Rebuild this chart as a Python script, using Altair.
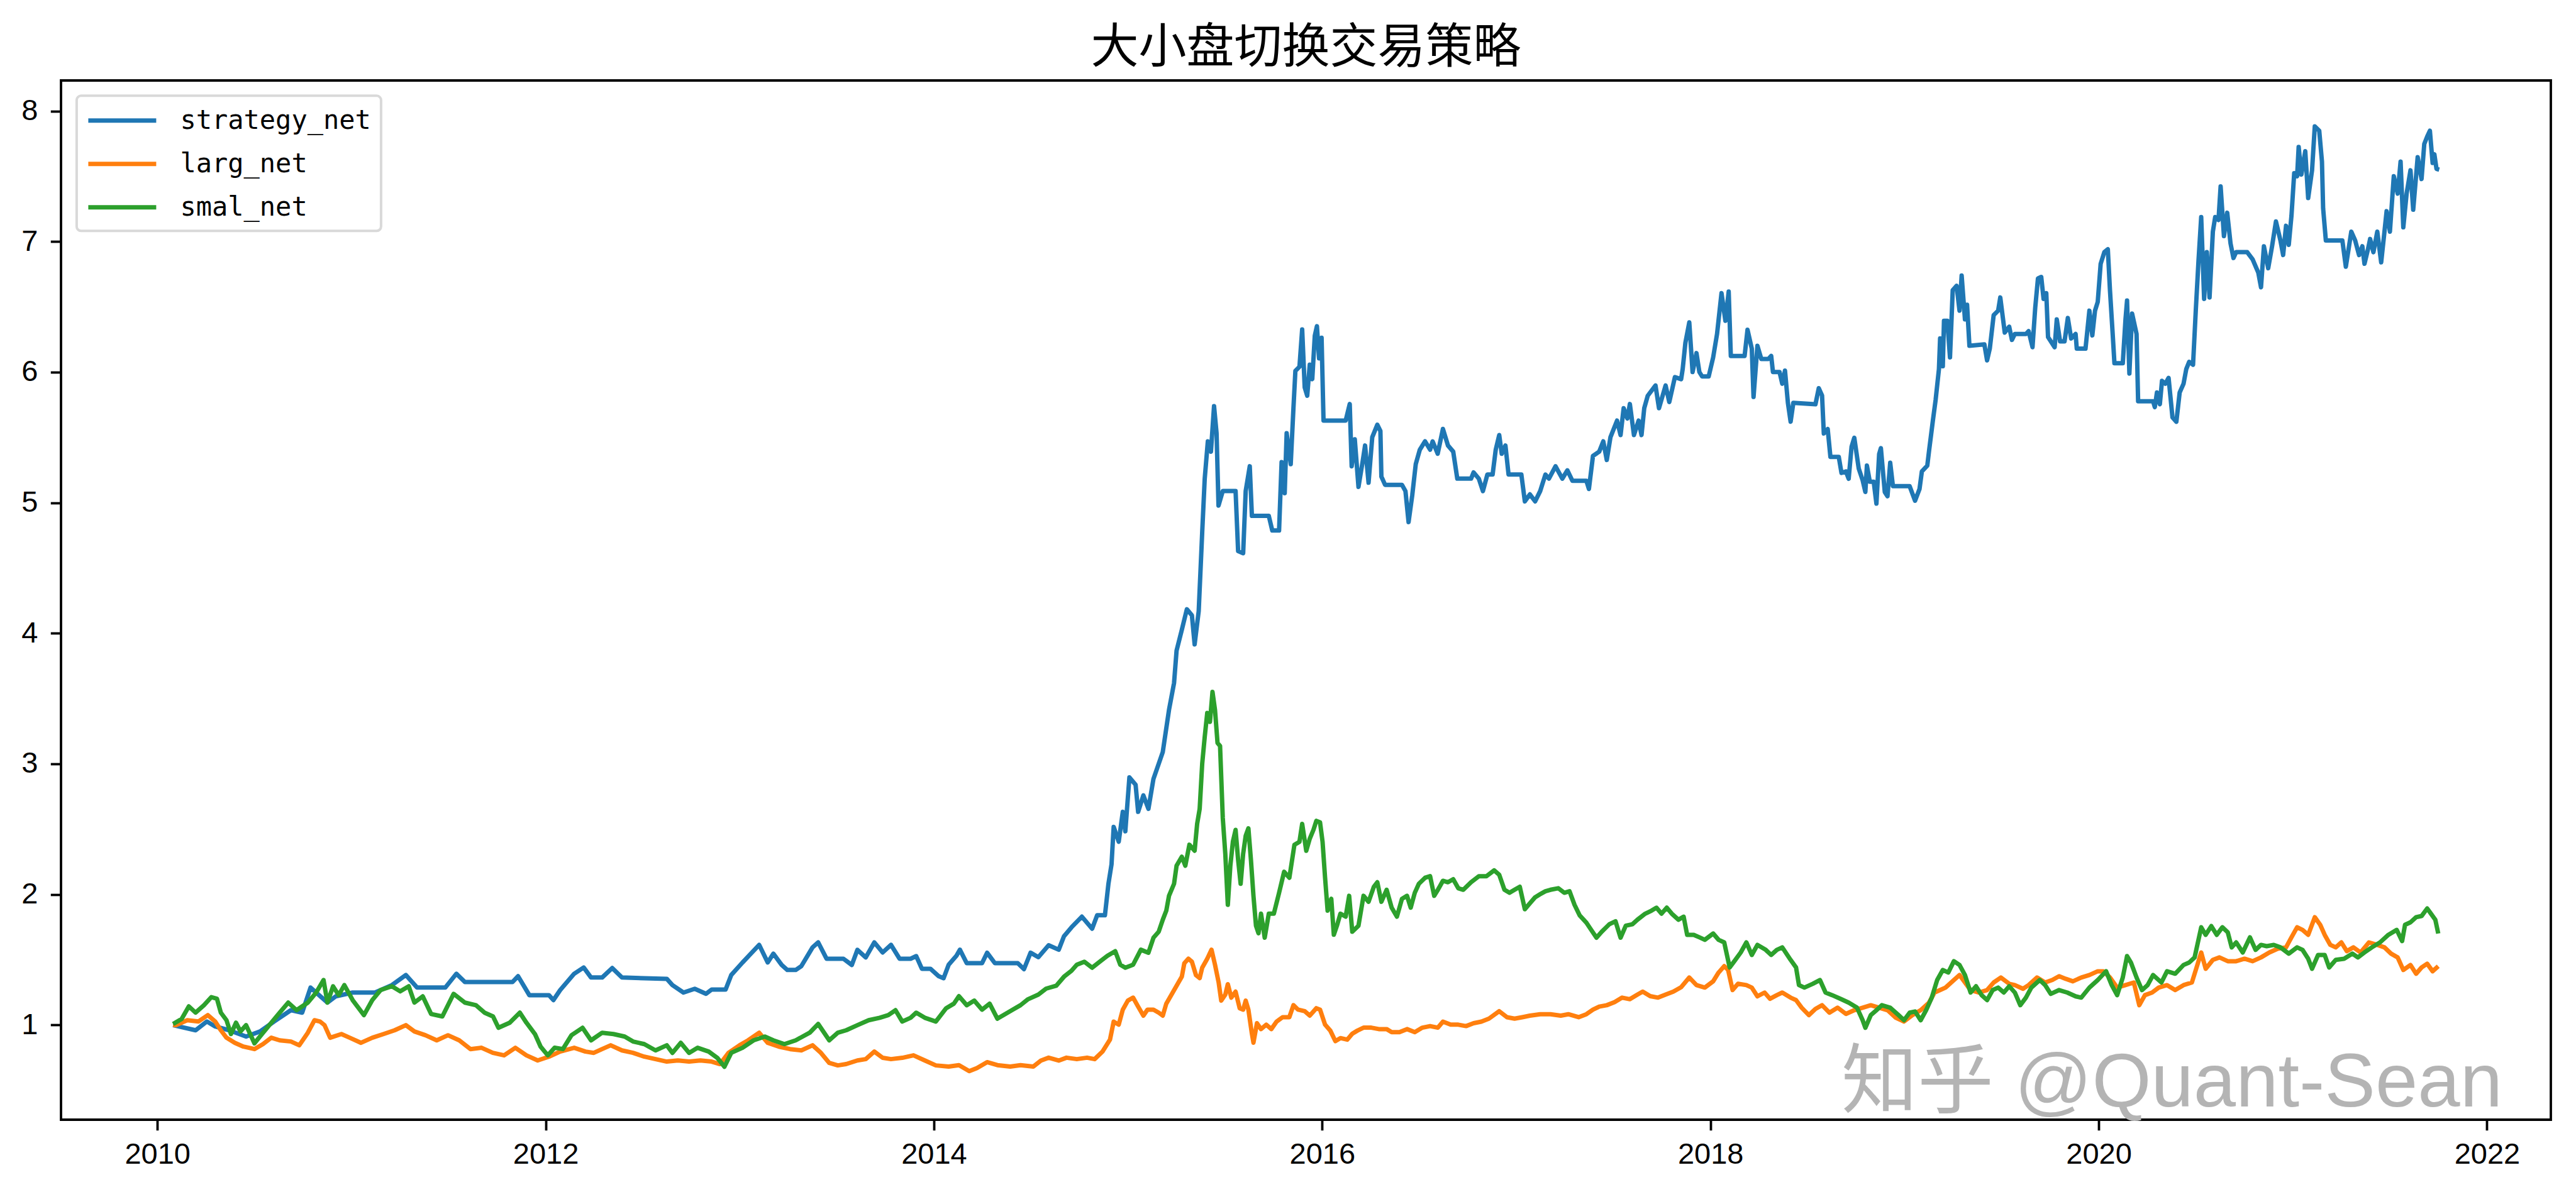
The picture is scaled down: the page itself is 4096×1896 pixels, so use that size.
import altair as alt
import pandas as pd

TITLE = "大小盘切换交易策略"
SERIES = ["strategy_net", "larg_net", "smal_net"]
COLORS = ["#1f77b4", "#ff7f0e", "#2ca02c"]
X_TICKS = [2010, 2012, 2014, 2016, 2018, 2020, 2022]
Y_TICKS = [1, 2, 3, 4, 5, 6, 7, 8]
WATERMARK = "知乎 @Quant-Sean"

# (decimal year, net value)
strategy_net = [
    (2010.081, 0.998), (2010.197, 0.959), (2010.255, 1.026), (2010.298, 0.988), (2010.370, 0.959),
    (2010.457, 0.911), (2010.529, 0.950), (2010.601, 1.026), (2010.688, 1.113), (2010.746, 1.094),
    (2010.789, 1.286), (2010.876, 1.171), (2010.919, 1.219), (2011.006, 1.248), (2011.121, 1.248),
    (2011.208, 1.305), (2011.280, 1.382), (2011.338, 1.286), (2011.483, 1.286), (2011.540, 1.392),
    (2011.584, 1.328), (2011.829, 1.328), (2011.858, 1.373), (2011.916, 1.228), (2012.017, 1.228),
    (2012.040, 1.190), (2012.075, 1.267), (2012.147, 1.392), (2012.196, 1.440), (2012.234, 1.363),
    (2012.291, 1.363), (2012.343, 1.436), (2012.393, 1.363), (2012.624, 1.353), (2012.653, 1.305),
    (2012.710, 1.248), (2012.768, 1.277), (2012.826, 1.238), (2012.855, 1.271), (2012.927, 1.271),
    (2012.956, 1.382), (2013.014, 1.478), (2013.100, 1.613), (2013.144, 1.478), (2013.173, 1.546),
    (2013.216, 1.459), (2013.245, 1.421), (2013.288, 1.421), (2013.317, 1.450), (2013.375, 1.594),
    (2013.404, 1.632), (2013.447, 1.507), (2013.534, 1.507), (2013.577, 1.459), (2013.606, 1.575),
    (2013.649, 1.517), (2013.693, 1.632), (2013.736, 1.555), (2013.779, 1.613), (2013.823, 1.507),
    (2013.880, 1.507), (2013.909, 1.527), (2013.938, 1.430), (2013.982, 1.430), (2014.025, 1.373),
    (2014.050, 1.358), (2014.076, 1.461), (2014.116, 1.530), (2014.134, 1.576), (2014.169, 1.473),
    (2014.248, 1.473), (2014.274, 1.553), (2014.314, 1.473), (2014.432, 1.473), (2014.464, 1.427),
    (2014.498, 1.553), (2014.538, 1.519), (2014.591, 1.610), (2014.643, 1.576), (2014.670, 1.679),
    (2014.709, 1.748), (2014.762, 1.829), (2014.815, 1.737), (2014.841, 1.840), (2014.881, 1.840),
    (2014.899, 2.081), (2014.915, 2.230), (2014.926, 2.517), (2014.952, 2.403), (2014.973, 2.632),
    (2014.986, 2.483), (2015.007, 2.896), (2015.039, 2.839), (2015.052, 2.632), (2015.079, 2.758),
    (2015.105, 2.655), (2015.131, 2.885), (2015.158, 3.000), (2015.179, 3.091), (2015.211, 3.413),
    (2015.237, 3.619), (2015.250, 3.867), (2015.277, 4.026), (2015.303, 4.184), (2015.329, 4.137),
    (2015.343, 3.915), (2015.364, 4.169), (2015.382, 4.772), (2015.395, 5.184), (2015.411, 5.470),
    (2015.427, 5.391), (2015.443, 5.740), (2015.456, 5.533), (2015.466, 4.978), (2015.488, 5.089),
    (2015.554, 5.089), (2015.567, 4.629), (2015.593, 4.613), (2015.606, 5.089), (2015.627, 5.279),
    (2015.638, 4.899), (2015.725, 4.899), (2015.743, 4.787), (2015.778, 4.787), (2015.791, 5.311),
    (2015.807, 5.073), (2015.817, 5.533), (2015.838, 5.295), (2015.852, 5.724), (2015.862, 6.009),
    (2015.883, 6.041), (2015.897, 6.327), (2015.910, 5.883), (2015.923, 5.819), (2015.936, 6.057),
    (2015.949, 5.946), (2015.962, 6.279), (2015.973, 6.352), (2015.984, 6.105), (2015.997, 6.263),
    (2016.007, 5.629), (2016.121, 5.629), (2016.142, 5.756), (2016.152, 5.279), (2016.168, 5.486),
    (2016.187, 5.121), (2016.208, 5.311), (2016.221, 5.438), (2016.239, 5.153), (2016.258, 5.502),
    (2016.284, 5.597), (2016.300, 5.549), (2016.305, 5.200), (2016.324, 5.137), (2016.411, 5.137),
    (2016.429, 5.089), (2016.445, 4.851), (2016.464, 5.057), (2016.482, 5.295), (2016.503, 5.406),
    (2016.530, 5.470), (2016.556, 5.406), (2016.569, 5.470), (2016.595, 5.375), (2016.622, 5.565),
    (2016.648, 5.438), (2016.675, 5.391), (2016.696, 5.184), (2016.767, 5.184), (2016.780, 5.232),
    (2016.807, 5.184), (2016.828, 5.089), (2016.851, 5.216), (2016.878, 5.216), (2016.894, 5.406),
    (2016.912, 5.518), (2016.925, 5.375), (2016.944, 5.438), (2016.960, 5.216), (2017.026, 5.216),
    (2017.044, 5.010), (2017.070, 5.064), (2017.097, 5.010), (2017.123, 5.089), (2017.150, 5.216),
    (2017.168, 5.184), (2017.202, 5.279), (2017.237, 5.184), (2017.263, 5.248), (2017.289, 5.168),
    (2017.361, 5.168), (2017.374, 5.105), (2017.395, 5.359), (2017.427, 5.391), (2017.448, 5.470),
    (2017.466, 5.327), (2017.485, 5.502), (2017.519, 5.629), (2017.537, 5.518), (2017.553, 5.724),
    (2017.572, 5.645), (2017.585, 5.756), (2017.606, 5.518), (2017.630, 5.629), (2017.645, 5.518),
    (2017.659, 5.724), (2017.677, 5.819), (2017.717, 5.898), (2017.735, 5.724), (2017.769, 5.898),
    (2017.788, 5.771), (2017.817, 5.962), (2017.849, 5.946), (2017.857, 6.023), (2017.871, 6.225),
    (2017.891, 6.381), (2017.908, 6.001), (2017.928, 6.146), (2017.943, 6.001), (2017.957, 5.967),
    (2017.991, 5.967), (2018.014, 6.113), (2018.034, 6.292), (2018.057, 6.605), (2018.077, 6.393),
    (2018.094, 6.617), (2018.105, 6.124), (2018.176, 6.124), (2018.191, 6.325), (2018.213, 6.180),
    (2018.222, 5.810), (2018.242, 6.202), (2018.262, 6.101), (2018.299, 6.101), (2018.313, 6.124),
    (2018.322, 6.001), (2018.356, 6.001), (2018.370, 5.911), (2018.384, 6.012), (2018.399, 5.765),
    (2018.413, 5.620), (2018.427, 5.765), (2018.541, 5.754), (2018.558, 5.877), (2018.575, 5.821),
    (2018.584, 5.530), (2018.604, 5.564), (2018.618, 5.351), (2018.661, 5.351), (2018.675, 5.228),
    (2018.698, 5.239), (2018.712, 5.183), (2018.727, 5.429), (2018.741, 5.497), (2018.764, 5.261),
    (2018.784, 5.172), (2018.798, 5.082), (2018.806, 5.284), (2018.821, 5.161), (2018.841, 5.161),
    (2018.855, 4.993), (2018.869, 5.373), (2018.878, 5.418), (2018.898, 5.082), (2018.912, 5.049),
    (2018.926, 5.306), (2018.940, 5.127), (2019.026, 5.127), (2019.054, 5.015), (2019.077, 5.105),
    (2019.089, 5.239), (2019.117, 5.284), (2019.126, 5.396), (2019.146, 5.631), (2019.160, 5.788),
    (2019.177, 6.023), (2019.183, 6.258), (2019.197, 6.045), (2019.203, 6.393), (2019.220, 6.393),
    (2019.234, 6.113), (2019.248, 6.628), (2019.268, 6.661), (2019.283, 6.471), (2019.294, 6.740),
    (2019.311, 6.404), (2019.322, 6.516), (2019.334, 6.202), (2019.411, 6.213), (2019.425, 6.090),
    (2019.439, 6.180), (2019.459, 6.437), (2019.482, 6.471), (2019.493, 6.572), (2019.516, 6.303),
    (2019.539, 6.348), (2019.553, 6.247), (2019.568, 6.292), (2019.625, 6.292), (2019.639, 6.314),
    (2019.659, 6.191), (2019.673, 6.493), (2019.687, 6.717), (2019.704, 6.729), (2019.716, 6.561),
    (2019.730, 6.605), (2019.739, 6.269), (2019.773, 6.191), (2019.784, 6.404), (2019.801, 6.236),
    (2019.824, 6.236), (2019.841, 6.415), (2019.858, 6.258), (2019.881, 6.292), (2019.887, 6.180),
    (2019.932, 6.180), (2019.952, 6.471), (2019.967, 6.281), (2019.981, 6.471), (2019.995, 6.538),
    (2020.010, 6.829), (2020.029, 6.919), (2020.047, 6.941), (2020.058, 6.628), (2020.072, 6.292),
    (2020.081, 6.068), (2020.124, 6.068), (2020.138, 6.404), (2020.146, 6.549), (2020.158, 5.989),
    (2020.172, 6.449), (2020.195, 6.292), (2020.203, 5.777), (2020.280, 5.777), (2020.289, 5.732),
    (2020.300, 5.844), (2020.315, 5.754), (2020.326, 5.933), (2020.343, 5.911), (2020.360, 5.956),
    (2020.380, 5.653), (2020.400, 5.620), (2020.417, 5.844), (2020.437, 5.911), (2020.451, 6.023),
    (2020.466, 6.079), (2020.486, 6.057), (2020.500, 6.471), (2020.514, 6.852), (2020.528, 7.188),
    (2020.543, 6.561), (2020.557, 6.919), (2020.571, 6.572), (2020.588, 7.076), (2020.600, 7.188),
    (2020.617, 7.165), (2020.628, 7.423), (2020.645, 7.042), (2020.662, 7.221), (2020.679, 6.986),
    (2020.694, 6.874), (2020.708, 6.919), (2020.765, 6.919), (2020.793, 6.863), (2020.822, 6.762),
    (2020.836, 6.650), (2020.851, 6.964), (2020.873, 6.796), (2020.893, 6.964), (2020.913, 7.154),
    (2020.936, 7.009), (2020.950, 6.897), (2020.965, 7.121), (2020.979, 6.975), (2020.993, 7.199),
    (2021.007, 7.524), (2021.022, 7.501), (2021.030, 7.725), (2021.044, 7.513), (2021.064, 7.692),
    (2021.079, 7.333), (2021.099, 7.546), (2021.113, 7.882), (2021.136, 7.849), (2021.150, 7.613),
    (2021.156, 7.255), (2021.170, 7.009), (2021.255, 7.009), (2021.273, 6.807), (2021.287, 6.941),
    (2021.301, 7.076), (2021.321, 7.009), (2021.341, 6.897), (2021.358, 6.964), (2021.369, 6.830),
    (2021.387, 6.941), (2021.398, 7.020), (2021.415, 6.919), (2021.435, 7.076), (2021.455, 6.841),
    (2021.472, 7.076), (2021.483, 7.233), (2021.500, 7.076), (2021.520, 7.501), (2021.540, 7.367),
    (2021.555, 7.613), (2021.569, 7.109), (2021.586, 7.367), (2021.606, 7.546), (2021.620, 7.244),
    (2021.643, 7.647), (2021.663, 7.479), (2021.677, 7.748), (2021.692, 7.804), (2021.706, 7.849),
    (2021.720, 7.602), (2021.729, 7.669), (2021.740, 7.557), (2021.754, 7.551),
]

larg_net = [
    (2010.081, 1.000), (2010.096, 0.998), (2010.154, 1.036), (2010.211, 1.026), (2010.260, 1.075),
    (2010.298, 1.026), (2010.327, 0.959), (2010.356, 0.902), (2010.399, 0.863), (2010.443, 0.834),
    (2010.500, 0.815), (2010.544, 0.853), (2010.587, 0.902), (2010.630, 0.882), (2010.688, 0.873),
    (2010.731, 0.844), (2010.775, 0.940), (2010.809, 1.036), (2010.838, 1.026), (2010.861, 0.998),
    (2010.890, 0.902), (2010.948, 0.930), (2010.991, 0.902), (2011.049, 0.863), (2011.107, 0.902),
    (2011.165, 0.930), (2011.222, 0.959), (2011.280, 0.998), (2011.324, 0.950), (2011.381, 0.921),
    (2011.439, 0.882), (2011.497, 0.921), (2011.555, 0.882), (2011.613, 0.815), (2011.670, 0.825),
    (2011.728, 0.786), (2011.786, 0.767), (2011.844, 0.825), (2011.901, 0.767), (2011.959, 0.728),
    (2012.017, 0.757), (2012.075, 0.796), (2012.147, 0.825), (2012.205, 0.796), (2012.248, 0.786),
    (2012.291, 0.815), (2012.335, 0.844), (2012.393, 0.805), (2012.450, 0.786), (2012.508, 0.757),
    (2012.566, 0.738), (2012.624, 0.719), (2012.681, 0.728), (2012.739, 0.719), (2012.797, 0.728),
    (2012.855, 0.719), (2012.898, 0.700), (2012.942, 0.786), (2012.999, 0.844), (2013.043, 0.882),
    (2013.100, 0.940), (2013.144, 0.863), (2013.201, 0.834), (2013.259, 0.815), (2013.317, 0.805),
    (2013.375, 0.844), (2013.418, 0.786), (2013.461, 0.709), (2013.505, 0.690), (2013.548, 0.700),
    (2013.606, 0.728), (2013.649, 0.738), (2013.693, 0.796), (2013.736, 0.748), (2013.779, 0.738),
    (2013.837, 0.748), (2013.895, 0.767), (2013.953, 0.728), (2014.010, 0.690), (2014.076, 0.681),
    (2014.129, 0.692), (2014.182, 0.646), (2014.221, 0.669), (2014.274, 0.715), (2014.327, 0.692),
    (2014.393, 0.681), (2014.446, 0.692), (2014.512, 0.681), (2014.551, 0.727), (2014.591, 0.749),
    (2014.643, 0.727), (2014.683, 0.749), (2014.736, 0.738), (2014.789, 0.749), (2014.828, 0.738),
    (2014.868, 0.795), (2014.907, 0.887), (2014.926, 1.025), (2014.952, 1.002), (2014.973, 1.117),
    (2014.999, 1.186), (2015.026, 1.209), (2015.052, 1.140), (2015.079, 1.071), (2015.100, 1.117),
    (2015.131, 1.117), (2015.158, 1.094), (2015.179, 1.071), (2015.197, 1.163), (2015.224, 1.232),
    (2015.250, 1.300), (2015.277, 1.369), (2015.290, 1.473), (2015.311, 1.507), (2015.329, 1.484),
    (2015.350, 1.381), (2015.369, 1.358), (2015.382, 1.438), (2015.408, 1.507), (2015.430, 1.576),
    (2015.448, 1.461), (2015.467, 1.323), (2015.480, 1.186), (2015.501, 1.232), (2015.514, 1.312),
    (2015.532, 1.209), (2015.554, 1.255), (2015.575, 1.128), (2015.593, 1.117), (2015.606, 1.186),
    (2015.620, 1.117), (2015.638, 0.933), (2015.646, 0.864), (2015.664, 1.013), (2015.685, 0.968),
    (2015.712, 1.002), (2015.738, 0.968), (2015.765, 1.025), (2015.796, 1.059), (2015.831, 1.059),
    (2015.852, 1.151), (2015.876, 1.117), (2015.910, 1.105), (2015.936, 1.071), (2015.970, 1.128),
    (2015.989, 1.117), (2016.015, 1.002), (2016.042, 0.956), (2016.068, 0.876), (2016.094, 0.899),
    (2016.129, 0.887), (2016.155, 0.933), (2016.181, 0.956), (2016.213, 0.979), (2016.253, 0.979),
    (2016.292, 0.968), (2016.332, 0.968), (2016.358, 0.945), (2016.398, 0.945), (2016.437, 0.968),
    (2016.477, 0.945), (2016.516, 0.979), (2016.556, 0.991), (2016.596, 0.979), (2016.622, 1.025),
    (2016.662, 1.002), (2016.701, 1.002), (2016.741, 0.991), (2016.780, 1.013), (2016.820, 1.025),
    (2016.859, 1.048), (2016.912, 1.105), (2016.952, 1.059), (2016.991, 1.048), (2017.031, 1.059),
    (2017.070, 1.071), (2017.123, 1.082), (2017.176, 1.082), (2017.229, 1.071), (2017.268, 1.082),
    (2017.321, 1.059), (2017.361, 1.082), (2017.395, 1.117), (2017.427, 1.140), (2017.466, 1.151),
    (2017.506, 1.174), (2017.545, 1.209), (2017.585, 1.197), (2017.624, 1.232), (2017.651, 1.255),
    (2017.690, 1.220), (2017.730, 1.209), (2017.769, 1.232), (2017.809, 1.255), (2017.849, 1.289),
    (2017.891, 1.363), (2017.928, 1.305), (2017.971, 1.286), (2018.014, 1.334), (2018.042, 1.401),
    (2018.071, 1.450), (2018.091, 1.421), (2018.114, 1.267), (2018.142, 1.315), (2018.185, 1.305),
    (2018.213, 1.286), (2018.242, 1.219), (2018.279, 1.248), (2018.307, 1.200), (2018.342, 1.228),
    (2018.370, 1.248), (2018.413, 1.209), (2018.441, 1.190), (2018.470, 1.132), (2018.507, 1.075),
    (2018.541, 1.123), (2018.575, 1.151), (2018.613, 1.094), (2018.655, 1.132), (2018.698, 1.084),
    (2018.741, 1.113), (2018.784, 1.132), (2018.826, 1.151), (2018.869, 1.132), (2018.912, 1.113),
    (2018.955, 1.055), (2018.997, 1.026), (2019.040, 1.075), (2019.083, 1.113), (2019.126, 1.171),
    (2019.154, 1.248), (2019.183, 1.267), (2019.211, 1.286), (2019.254, 1.344), (2019.283, 1.382),
    (2019.311, 1.325), (2019.340, 1.267), (2019.382, 1.248), (2019.425, 1.267), (2019.459, 1.325),
    (2019.496, 1.363), (2019.539, 1.315), (2019.568, 1.305), (2019.610, 1.277), (2019.639, 1.305),
    (2019.682, 1.363), (2019.724, 1.325), (2019.761, 1.344), (2019.796, 1.373), (2019.830, 1.353),
    (2019.867, 1.334), (2019.910, 1.363), (2019.952, 1.382), (2019.995, 1.411), (2020.024, 1.411),
    (2020.058, 1.363), (2020.095, 1.286), (2020.138, 1.305), (2020.181, 1.325), (2020.209, 1.151),
    (2020.238, 1.228), (2020.275, 1.248), (2020.309, 1.286), (2020.352, 1.305), (2020.394, 1.267),
    (2020.437, 1.305), (2020.480, 1.325), (2020.508, 1.459), (2020.528, 1.555), (2020.551, 1.430),
    (2020.588, 1.498), (2020.622, 1.517), (2020.665, 1.488), (2020.708, 1.488), (2020.751, 1.507),
    (2020.793, 1.488), (2020.836, 1.517), (2020.879, 1.555), (2020.922, 1.584), (2020.965, 1.594),
    (2020.993, 1.671), (2021.022, 1.748), (2021.050, 1.728), (2021.079, 1.690), (2021.113, 1.825),
    (2021.141, 1.767), (2021.164, 1.690), (2021.193, 1.613), (2021.221, 1.594), (2021.250, 1.632),
    (2021.278, 1.565), (2021.312, 1.594), (2021.349, 1.555), (2021.392, 1.632), (2021.435, 1.613),
    (2021.472, 1.594), (2021.506, 1.546), (2021.540, 1.517), (2021.569, 1.421), (2021.606, 1.459),
    (2021.635, 1.392), (2021.663, 1.440), (2021.692, 1.469), (2021.720, 1.411), (2021.749, 1.450),
]

smal_net = [
    (2010.081, 1.007), (2010.125, 1.046), (2010.162, 1.142), (2010.197, 1.094), (2010.240, 1.151),
    (2010.278, 1.213), (2010.307, 1.200), (2010.327, 1.094), (2010.356, 1.036), (2010.379, 0.930),
    (2010.405, 1.017), (2010.428, 0.950), (2010.457, 0.998), (2010.500, 0.859), (2010.544, 0.940),
    (2010.587, 1.017), (2010.630, 1.094), (2010.674, 1.171), (2010.717, 1.113), (2010.775, 1.171),
    (2010.818, 1.248), (2010.856, 1.344), (2010.876, 1.171), (2010.905, 1.296), (2010.934, 1.228),
    (2010.963, 1.305), (2011.006, 1.190), (2011.064, 1.075), (2011.107, 1.190), (2011.150, 1.267),
    (2011.208, 1.296), (2011.251, 1.257), (2011.295, 1.296), (2011.324, 1.171), (2011.367, 1.219),
    (2011.410, 1.084), (2011.468, 1.065), (2011.526, 1.238), (2011.584, 1.171), (2011.641, 1.151),
    (2011.685, 1.094), (2011.729, 1.065), (2011.757, 0.978), (2011.815, 1.017), (2011.867, 1.094),
    (2011.901, 1.017), (2011.945, 0.930), (2011.974, 0.834), (2012.011, 0.767), (2012.046, 0.825),
    (2012.089, 0.815), (2012.133, 0.921), (2012.190, 0.978), (2012.234, 0.882), (2012.291, 0.940),
    (2012.349, 0.930), (2012.407, 0.911), (2012.450, 0.873), (2012.508, 0.853), (2012.566, 0.805),
    (2012.624, 0.844), (2012.653, 0.786), (2012.696, 0.863), (2012.739, 0.786), (2012.783, 0.825),
    (2012.840, 0.796), (2012.884, 0.748), (2012.921, 0.680), (2012.956, 0.786), (2013.014, 0.825),
    (2013.071, 0.882), (2013.129, 0.911), (2013.173, 0.882), (2013.230, 0.853), (2013.288, 0.882),
    (2013.360, 0.940), (2013.404, 1.007), (2013.461, 0.882), (2013.505, 0.940), (2013.548, 0.959),
    (2013.606, 0.998), (2013.664, 1.036), (2013.721, 1.055), (2013.765, 1.075), (2013.802, 1.113),
    (2013.837, 1.026), (2013.880, 1.055), (2013.909, 1.094), (2013.953, 1.055), (2014.010, 1.026),
    (2014.063, 1.128), (2014.103, 1.163), (2014.129, 1.220), (2014.169, 1.151), (2014.208, 1.186),
    (2014.248, 1.117), (2014.287, 1.163), (2014.327, 1.048), (2014.366, 1.082), (2014.406, 1.117),
    (2014.446, 1.151), (2014.485, 1.197), (2014.538, 1.232), (2014.578, 1.278), (2014.630, 1.300),
    (2014.670, 1.369), (2014.709, 1.415), (2014.736, 1.461), (2014.775, 1.484), (2014.815, 1.438),
    (2014.854, 1.484), (2014.894, 1.530), (2014.934, 1.565), (2014.960, 1.461), (2014.986, 1.438),
    (2015.026, 1.461), (2015.066, 1.576), (2015.105, 1.553), (2015.131, 1.668), (2015.158, 1.714),
    (2015.179, 1.806), (2015.197, 1.875), (2015.211, 1.989), (2015.237, 2.081), (2015.250, 2.219),
    (2015.277, 2.288), (2015.295, 2.219), (2015.316, 2.380), (2015.343, 2.334), (2015.356, 2.540),
    (2015.369, 2.655), (2015.382, 3.000), (2015.395, 3.206), (2015.408, 3.390), (2015.422, 3.321),
    (2015.435, 3.551), (2015.448, 3.413), (2015.461, 3.160), (2015.474, 3.137), (2015.488, 2.586),
    (2015.501, 2.311), (2015.514, 1.920), (2015.527, 2.219), (2015.540, 2.403), (2015.554, 2.494),
    (2015.567, 2.265), (2015.580, 2.081), (2015.593, 2.311), (2015.606, 2.448), (2015.620, 2.506),
    (2015.633, 2.265), (2015.646, 1.989), (2015.659, 1.760), (2015.672, 1.702), (2015.685, 1.852),
    (2015.704, 1.668), (2015.725, 1.852), (2015.751, 1.852), (2015.778, 2.012), (2015.804, 2.173),
    (2015.831, 2.127), (2015.857, 2.380), (2015.883, 2.403), (2015.897, 2.540), (2015.918, 2.334),
    (2015.936, 2.426), (2015.955, 2.494), (2015.970, 2.563), (2015.989, 2.552), (2016.002, 2.403),
    (2016.015, 2.127), (2016.028, 1.875), (2016.047, 1.966), (2016.060, 1.691), (2016.076, 1.760),
    (2016.094, 1.852), (2016.121, 1.829), (2016.139, 1.989), (2016.155, 1.714), (2016.187, 1.760),
    (2016.213, 1.989), (2016.239, 1.943), (2016.266, 2.058), (2016.284, 2.093), (2016.305, 1.943),
    (2016.332, 2.035), (2016.358, 1.898), (2016.385, 1.829), (2016.411, 1.966), (2016.437, 1.989),
    (2016.456, 1.898), (2016.477, 2.012), (2016.498, 2.081), (2016.530, 2.127), (2016.556, 2.139),
    (2016.577, 1.989), (2016.596, 2.035), (2016.622, 2.104), (2016.648, 2.093), (2016.675, 2.116),
    (2016.701, 2.047), (2016.727, 2.035), (2016.767, 2.093), (2016.807, 2.139), (2016.846, 2.139),
    (2016.886, 2.184), (2016.912, 2.150), (2016.939, 2.035), (2016.965, 2.012), (2016.991, 2.035),
    (2017.018, 2.058), (2017.044, 1.886), (2017.070, 1.932), (2017.097, 1.978), (2017.123, 2.001),
    (2017.150, 2.024), (2017.176, 2.035), (2017.216, 2.047), (2017.247, 2.012), (2017.274, 2.024),
    (2017.300, 1.920), (2017.326, 1.840), (2017.361, 1.783), (2017.387, 1.725), (2017.413, 1.668),
    (2017.440, 1.714), (2017.479, 1.771), (2017.511, 1.794), (2017.537, 1.668), (2017.564, 1.760),
    (2017.598, 1.771), (2017.624, 1.806), (2017.664, 1.852), (2017.696, 1.875), (2017.722, 1.898),
    (2017.748, 1.852), (2017.775, 1.898), (2017.801, 1.852), (2017.835, 1.806), (2017.862, 1.829),
    (2017.880, 1.690), (2017.914, 1.690), (2017.943, 1.671), (2017.971, 1.652), (2018.014, 1.700),
    (2018.042, 1.652), (2018.071, 1.632), (2018.099, 1.440), (2018.128, 1.498), (2018.156, 1.555),
    (2018.185, 1.632), (2018.213, 1.536), (2018.242, 1.613), (2018.285, 1.575), (2018.313, 1.536),
    (2018.342, 1.575), (2018.370, 1.594), (2018.413, 1.498), (2018.441, 1.440), (2018.456, 1.305),
    (2018.484, 1.286), (2018.527, 1.315), (2018.564, 1.344), (2018.593, 1.248), (2018.627, 1.228),
    (2018.670, 1.200), (2018.712, 1.171), (2018.755, 1.132), (2018.784, 1.036), (2018.798, 0.978),
    (2018.826, 1.075), (2018.855, 1.113), (2018.883, 1.151), (2018.926, 1.132), (2018.969, 1.075),
    (2018.997, 1.036), (2019.026, 1.094), (2019.054, 1.103), (2019.083, 1.036), (2019.111, 1.113),
    (2019.140, 1.209), (2019.168, 1.344), (2019.197, 1.421), (2019.225, 1.401), (2019.254, 1.488),
    (2019.283, 1.459), (2019.311, 1.382), (2019.340, 1.248), (2019.368, 1.296), (2019.397, 1.228),
    (2019.425, 1.190), (2019.454, 1.267), (2019.482, 1.286), (2019.511, 1.248), (2019.539, 1.296),
    (2019.568, 1.248), (2019.596, 1.151), (2019.625, 1.209), (2019.653, 1.286), (2019.696, 1.344),
    (2019.724, 1.305), (2019.753, 1.238), (2019.796, 1.267), (2019.838, 1.248), (2019.881, 1.219),
    (2019.910, 1.209), (2019.952, 1.286), (2019.995, 1.344), (2020.038, 1.411), (2020.067, 1.305),
    (2020.095, 1.228), (2020.124, 1.363), (2020.146, 1.527), (2020.166, 1.478), (2020.195, 1.363),
    (2020.223, 1.267), (2020.252, 1.305), (2020.280, 1.382), (2020.323, 1.325), (2020.352, 1.411),
    (2020.394, 1.392), (2020.437, 1.459), (2020.466, 1.478), (2020.494, 1.517), (2020.514, 1.652),
    (2020.528, 1.748), (2020.551, 1.690), (2020.580, 1.757), (2020.608, 1.690), (2020.637, 1.748),
    (2020.665, 1.709), (2020.685, 1.594), (2020.708, 1.632), (2020.742, 1.555), (2020.779, 1.671),
    (2020.808, 1.575), (2020.836, 1.613), (2020.865, 1.603), (2020.902, 1.613), (2020.936, 1.594),
    (2020.979, 1.546), (2021.022, 1.594), (2021.050, 1.575), (2021.079, 1.507), (2021.099, 1.430),
    (2021.130, 1.536), (2021.164, 1.536), (2021.187, 1.440), (2021.221, 1.498), (2021.264, 1.507),
    (2021.307, 1.546), (2021.335, 1.517), (2021.369, 1.555), (2021.407, 1.594), (2021.449, 1.632),
    (2021.492, 1.690), (2021.535, 1.728), (2021.563, 1.642), (2021.578, 1.767), (2021.606, 1.786),
    (2021.635, 1.825), (2021.663, 1.834), (2021.692, 1.892), (2021.711, 1.853), (2021.734, 1.805),
    (2021.749, 1.700),
]

frames = []
for name, pts in zip(SERIES, [strategy_net, larg_net, smal_net]):
    frames.append(pd.DataFrame({"year": [p[0] for p in pts],
                                "value": [p[1] for p in pts],
                                "series": name}))
df = pd.concat(frames, ignore_index=True)

x_enc = alt.X("year:Q",
              scale=alt.Scale(domain=[2009.5036, 2022.329], nice=False, zero=False),
              axis=alt.Axis(values=X_TICKS, format="d", title=None, labelPadding=15.5))
y_enc = alt.Y("value:Q",
              scale=alt.Scale(domain=[0.274, 8.234], nice=False, zero=False),
              axis=alt.Axis(values=Y_TICKS, format="d", title=None, labelPadding=20.4))
color_enc = alt.Color(
    "series:N",
    scale=alt.Scale(domain=SERIES, range=COLORS),
    legend=alt.Legend(
        title=None, orient="none", legendX=24.9, legendY=24.3,
        symbolType="M-2.7,0H2.7", symbolSize=1600, symbolStrokeWidth=7,
        symbolOffset=33, labelOffset=68.5,
        labelFont="DejaVu Sans Mono", labelFontSize=42, labelColor="black",
        labelLimit=1000, padding=16, rowPadding=24,
        strokeColor="#d9d9d9", fillColor="white", cornerRadius=7,
    ),
)

base = alt.Chart(df)
layers = [
    base.transform_filter(alt.datum.series == s)
    .mark_line(strokeWidth=7, strokeJoin="round", clip=True)
    .encode(x=x_enc, y=y_enc, color=color_enc)
    for s in SERIES
]

wm = (
    alt.Chart(pd.DataFrame({"t": [WATERMARK]}))
    .mark_text(align="left", baseline="alphabetic",
               font="Liberation Sans, Noto Sans CJK SC", fontSize=121, color="#b4b4b4")
    .encode(text="t:N", x=alt.value(2831), y=alt.value(1632))
)

chart = (
    alt.layer(*layers, wm)
    .properties(
        width=3959, height=1653,
        title=alt.TitleParams(TITLE, font="Noto Sans CJK SC", fontSize=76, fontWeight="normal",
                              color="black", anchor="middle", frame="group", offset=12),
        padding={"left": 89, "top": 120, "right": 32, "bottom": 107},
        autosize=alt.AutoSizeParams(type="none"),
    )
    .configure_view(stroke="black", strokeWidth=3.8)
    .configure_axis(domain=False, grid=False, tickColor="black", tickWidth=3.8, tickSize=16.7,
                    labelFont="Liberation Sans", labelFontSize=47, labelColor="black")
    .configure_legend(strokeWidth=4)
)

chart.save("out.html", embed_options={"renderer": "svg", "actions": False})
